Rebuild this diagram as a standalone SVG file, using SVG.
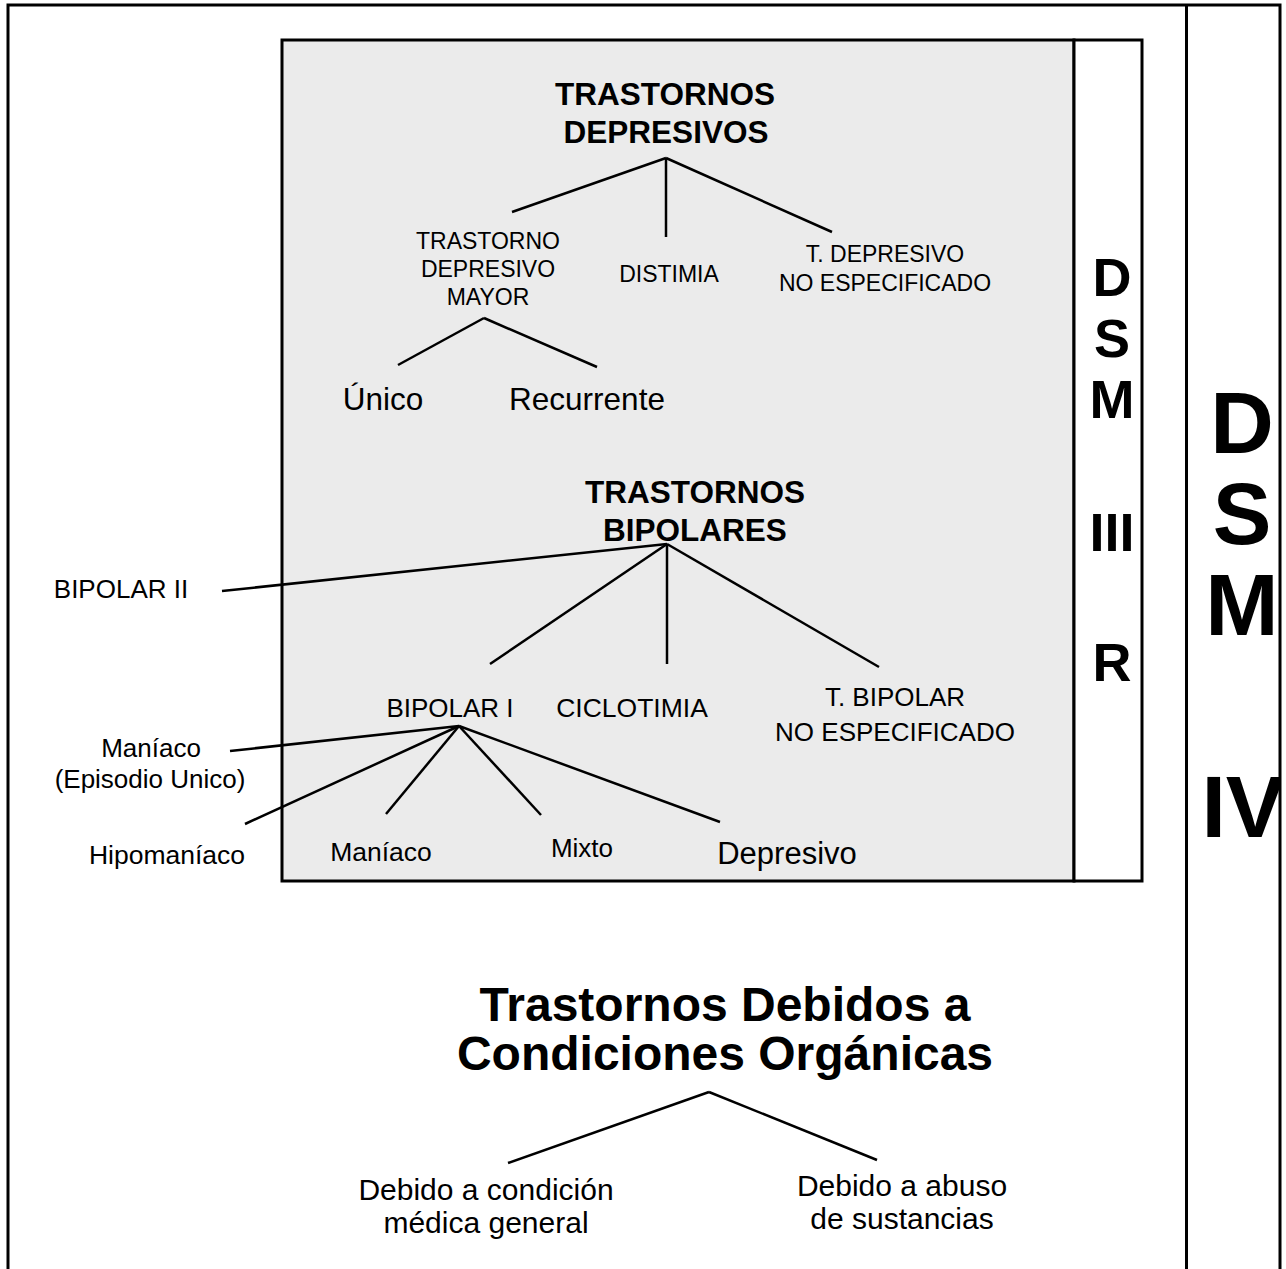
<svg xmlns="http://www.w3.org/2000/svg" width="1286" height="1269" viewBox="0 0 1286 1269">
<defs>
<style>
.t{font-family:"Liberation Sans",Arial,sans-serif;fill:#000;text-anchor:middle}
.b{font-weight:bold}
.ln{stroke:#000;stroke-width:2.5;fill:none;stroke-linecap:butt}
.frame{stroke:#000;stroke-width:3;fill:none}
</style>
<clipPath id="colclip"><rect x="1186" y="0" width="94" height="1269"/></clipPath>
</defs>
<rect width="1286" height="1269" fill="#fff"/>
<g id="frame">
<rect class="frame" x="8" y="5" width="1272" height="1275"/>
<line class="frame" x1="1186.5" y1="5" x2="1186.5" y2="1269"/>
<rect x="282" y="40" width="792" height="841" fill="#ebebeb" stroke="#000" stroke-width="3"/>
<rect x="1074" y="40" width="68" height="841" fill="#fff" stroke="#000" stroke-width="3"/>
</g>
<g id="dsm3r" class="t b" font-size="54">
<text x="1112" y="296">D</text>
<text x="1112" y="357">S</text>
<text x="1112" y="418">M</text>
<text x="1112" y="551">III</text>
<text x="1112" y="681">R</text>
</g>
<g id="dsm4" class="t b" font-size="88" clip-path="url(#colclip)">
<text x="1242" y="453">D</text>
<text x="1242" y="544">S</text>
<text x="1242" y="635">M</text>
<text x="1243" y="837">IV</text>
</g>
<g id="connectors">
<line class="ln" x1="666" y1="158" x2="512" y2="212"/>
<line class="ln" x1="666" y1="158" x2="666" y2="237"/>
<line class="ln" x1="666" y1="158" x2="832" y2="232"/>
<line class="ln" x1="484" y1="318" x2="398" y2="365"/>
<line class="ln" x1="484" y1="318" x2="597" y2="367"/>
<line class="ln" x1="667" y1="544" x2="222" y2="591"/>
<line class="ln" x1="667" y1="544" x2="490" y2="664"/>
<line class="ln" x1="667" y1="544" x2="667" y2="664"/>
<line class="ln" x1="667" y1="544" x2="879" y2="667"/>
<line class="ln" x1="459" y1="726" x2="230" y2="751"/>
<line class="ln" x1="459" y1="726" x2="245" y2="824"/>
<line class="ln" x1="459" y1="726" x2="386" y2="814"/>
<line class="ln" x1="459" y1="726" x2="541" y2="815"/>
<line class="ln" x1="459" y1="726" x2="720" y2="822"/>
<line class="ln" x1="709" y1="1092" x2="508" y2="1163"/>
<line class="ln" x1="709" y1="1092" x2="877" y2="1160"/>
</g>
<g id="n-depresivos" class="t b" font-size="31.5">
<text x="665" y="105">TRASTORNOS</text>
<text x="666" y="143">DEPRESIVOS</text>
</g>
<g id="n-tdm" class="t" font-size="23">
<text x="488" y="249">TRASTORNO</text>
<text x="488" y="277">DEPRESIVO</text>
<text x="488" y="305">MAYOR</text>
</g>
<g id="n-distimia" class="t" font-size="23"><text x="669" y="282">DISTIMIA</text></g>
<g id="n-tdne" class="t" font-size="23">
<text x="885" y="262">T. DEPRESIVO</text>
<text x="885" y="291">NO ESPECIFICADO</text>
</g>
<g id="n-unico" class="t" font-size="31.5"><text x="383" y="410">Único</text></g>
<g id="n-recurrente" class="t" font-size="31.5"><text x="587" y="410">Recurrente</text></g>
<g id="n-bipolares" class="t b" font-size="31.5">
<text x="695" y="503">TRASTORNOS</text>
<text x="695" y="541">BIPOLARES</text>
</g>
<g id="n-bipolar2" class="t" font-size="26"><text x="121" y="598">BIPOLAR II</text></g>
<g id="n-bipolar1" class="t" font-size="26"><text x="450" y="717">BIPOLAR I</text></g>
<g id="n-ciclotimia" class="t" font-size="26.5"><text x="632" y="717">CICLOTIMIA</text></g>
<g id="n-tbne" class="t" font-size="26">
<text x="895" y="706">T. BIPOLAR</text>
<text x="895" y="741">NO ESPECIFICADO</text>
</g>
<g id="n-maniaco-unico" class="t" font-size="26">
<text x="151" y="757">Maníaco</text>
<text x="150" y="788">(Episodio Unico)</text>
</g>
<g id="n-hipomaniaco" class="t" font-size="26.5"><text x="167" y="864">Hipomaníaco</text></g>
<g id="n-maniaco" class="t" font-size="26.5"><text x="381" y="861">Maníaco</text></g>
<g id="n-mixto" class="t" font-size="26"><text x="582" y="857">Mixto</text></g>
<g id="n-depresivo" class="t" font-size="31"><text x="787" y="864">Depresivo</text></g>
<g id="n-organicas" class="t b" font-size="48">
<text x="725" y="1021">Trastornos Debidos a</text>
<text x="725" y="1070">Condiciones Orgánicas</text>
</g>
<g id="n-medica" class="t" font-size="30">
<text x="486" y="1200">Debido a condición</text>
<text x="486" y="1233">médica general</text>
</g>
<g id="n-sustancias" class="t" font-size="30">
<text x="902" y="1196">Debido a abuso</text>
<text x="902" y="1229">de sustancias</text>
</g>
</svg>
